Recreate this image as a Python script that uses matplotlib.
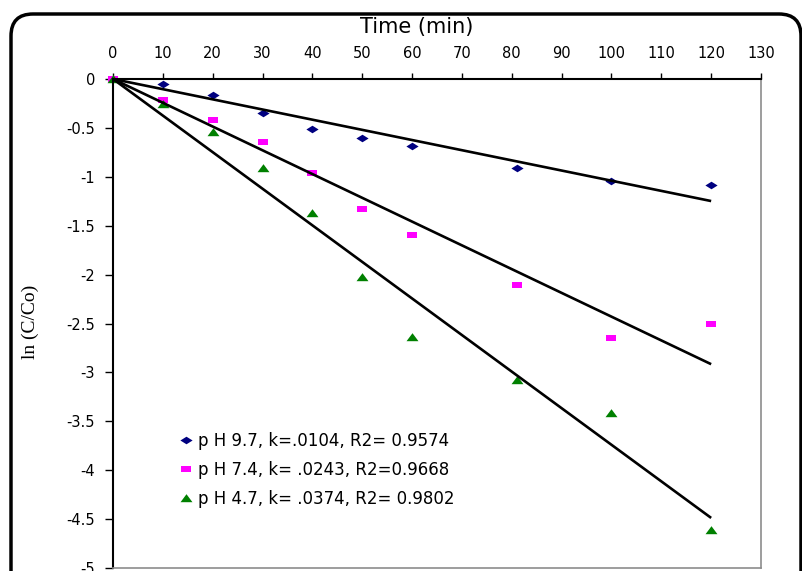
import matplotlib
matplotlib.use("Agg")
import matplotlib.pyplot as plt
from matplotlib.patches import FancyBboxPatch
from matplotlib.ticker import FuncFormatter

# --- pseudo-first-order kinetics: ln(C/Co) vs time at three pH values ---

time_min = [0, 10, 20, 30, 40, 50, 60, 81, 100, 120]
ph97 = [0, -0.05, -0.16, -0.35, -0.51, -0.60, -0.69, -0.91, -1.04, -1.08]
ph74 = [0, -0.21, -0.42, -0.64, -0.96, -1.33, -1.60, -2.11, -2.65, -2.51]
ph47 = [0, -0.26, -0.54, -0.91, -1.37, -2.02, -2.64, -3.08, -3.42, -4.61]
k_vals = [0.0104, 0.0243, 0.0374]
fit_t = [0, 120]
labels = ["p H 9.7, k=.0104, R2= 0.9574",
          "p H 7.4, k= .0243, R2=0.9668",
          "p H 4.7, k= .0374, R2= 0.9802"]
x_ticks = list(range(0, 131, 10))
y_ticks = [0, -0.5, -1, -1.5, -2, -2.5, -3, -3.5, -4, -4.5, -5]

# wide, flat markers (the original export is stretched sideways)
diamond = [(-1, 0), (0, 0.62), (1, 0), (0, -0.62)]
square = [(-1, -0.6), (1, -0.6), (1, 0.6), (-1, 0.6)]
triangle = [(-1, -0.62), (1, -0.62), (0, 0.72)]

series = [
    (ph97, diamond, "#000080", 8.8),
    (ph74, square, "#FF00FF", 7.9),
    (ph47, triangle, "#008000", 8.6),
]

fig = plt.figure(figsize=(8.02, 5.71), dpi=100)
ax = fig.add_axes([113 / 802, 1 - 568 / 571, 648 / 802, 489 / 571])

# rounded outer frame, partly cut off at the right and bottom
frame = FancyBboxPatch((0.11, -0.4), 7.9, 5.97,
                       boxstyle="round,pad=0,rounding_size=0.22",
                       transform=fig.dpi_scale_trans, fill=False,
                       edgecolor="black", linewidth=2.5, clip_on=False)
fig.patches.append(frame)

for (vals, mk, col, ms), lab in zip(series, labels):
    ax.plot(time_min, vals, linestyle="none", marker=mk, color=col,
            markersize=ms, markeredgewidth=0, label=lab, clip_on=False)

for k in k_vals:
    ax.plot(fit_t, [-k * t for t in fit_t], color="black", linewidth=1.9,
            solid_capstyle="butt")

ax.set_xlim(0, 130)
ax.set_ylim(-5, 0)
ax.set_xticks(x_ticks)
ax.set_yticks(y_ticks)
ax.yaxis.set_major_formatter(FuncFormatter(lambda v, p: f"{v:g}"))

ax.xaxis.tick_top()
ax.xaxis.set_label_position("top")
ax.tick_params(axis="x", direction="out", length=4, width=1, pad=9, labelsize=10.5)
ax.tick_params(axis="y", direction="out", length=6, width=1, pad=7, labelsize=10.5)

ax.spines["top"].set_linewidth(1.5)
ax.spines["left"].set_linewidth(1.5)
ax.spines["right"].set_color("#8c8c8c")
ax.spines["bottom"].set_color("#8c8c8c")
ax.spines["right"].set_linewidth(1.2)
ax.spines["bottom"].set_linewidth(1.2)

fig.text(417 / 802, 1 - 27 / 571, "Time (min)", ha="center", va="center",
         fontsize=15)
fig.text(30 / 802, 1 - 322 / 571, "ln (C/Co)", ha="center", va="center",
         rotation=90, fontsize=14, family="Liberation Serif")

ax.legend(loc="center left", bbox_to_anchor=(0.104, 0.2), frameon=False,
          fontsize=12, handlelength=0.7, handletextpad=0.35,
          labelspacing=0.66, borderpad=0, borderaxespad=0)

plt.savefig("out.png", dpi=100)
